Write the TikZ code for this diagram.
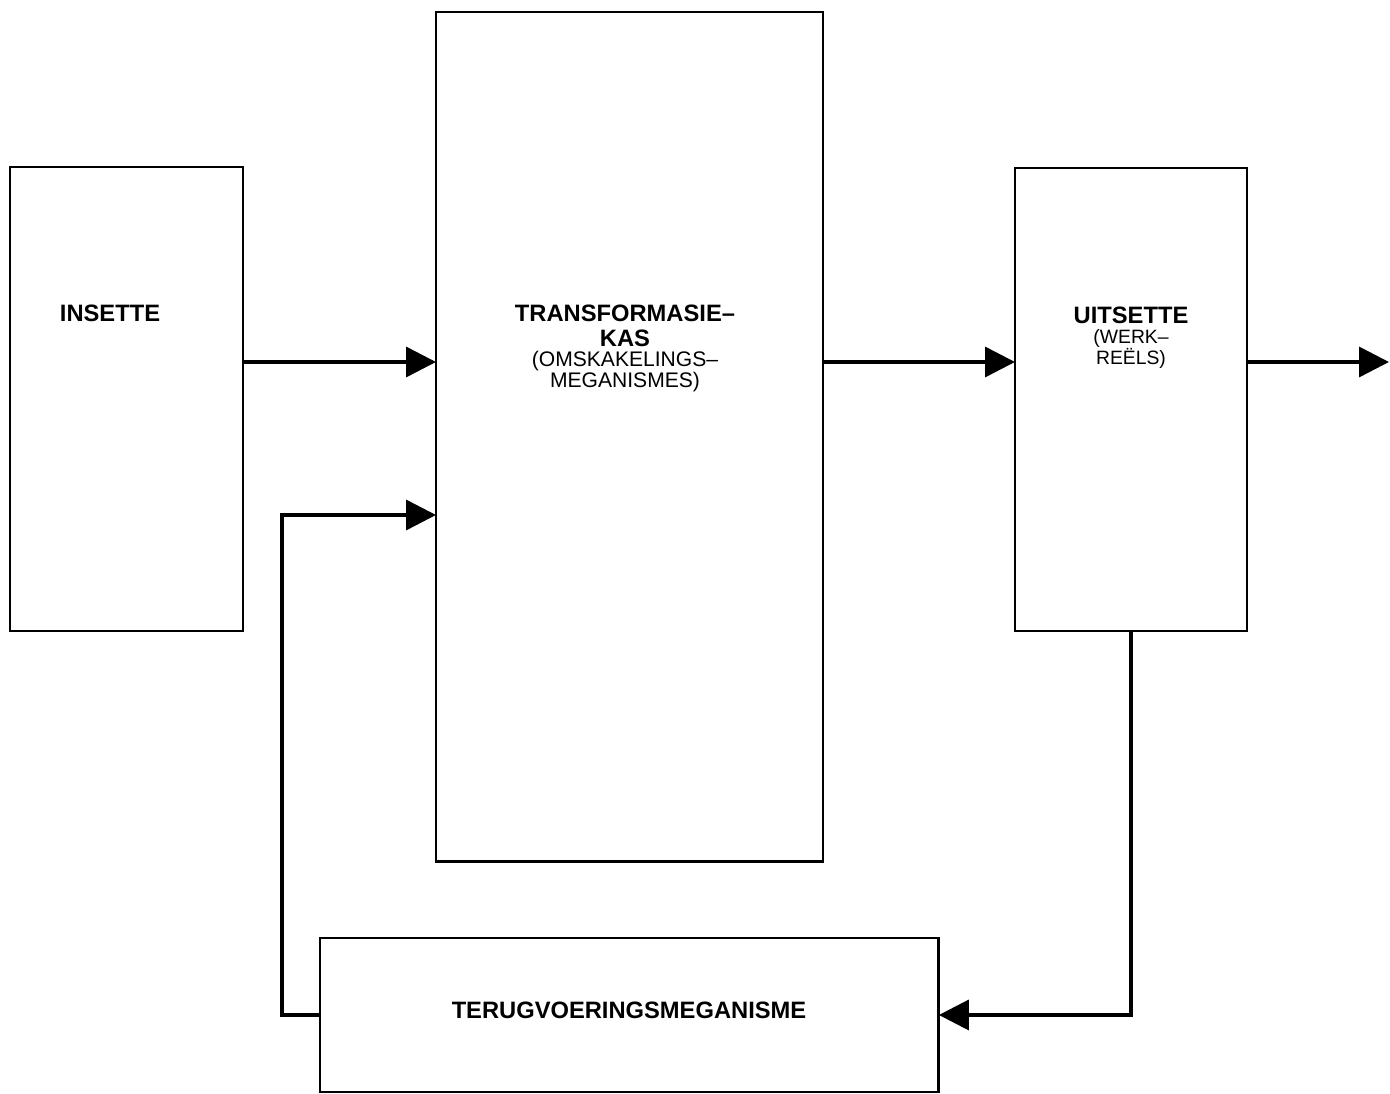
\documentclass[tikz,border=0pt]{standalone}
\usepackage{fontspec}
\setmainfont{Liberation Sans}
\usetikzlibrary{arrows.meta}
\begin{document}
\begin{tikzpicture}[x=0.02cm,y=-0.02cm,
  box/.style={draw, line width=1.6pt, inner sep=0pt, outer sep=0pt, anchor=north west},
  conn/.style={line width=2pt, -{Triangle[length=0.6cm,width=0.6cm]}},
  btxt/.style={font=\fontsize{13.5}{14.2}\selectfont\bfseries, align=center, inner sep=0pt},
  rtxt/.style={font=\fontsize{12}{12}\selectfont, align=center, inner sep=0pt}]
\useasboundingbox (0,0) rectangle (1390,1094);
% boxes
\node[box, minimum width=4.66cm, minimum height=9.28cm] (ins) at (10,167) {};
\node[box, minimum width=7.74cm, minimum height=17cm] (trans) at (436,12) {};
\node[box, minimum width=4.64cm, minimum height=9.26cm] (uit) at (1015,168) {};
\node[box, minimum width=12.38cm, minimum height=3.08cm] (terug) at (320,938) {};
% labels
\node[btxt] (insl) at (110,313) {INSETTE};
\node[btxt] (transl) at (625,325.5) {TRANSFORMASIE–\\KAS};
\node[rtxt, font=\fontsize{12}{12}\selectfont] (transs) at (625,372) {(OMSKAKELINGS–\\MEGANISMES)};
\node[btxt] (uitl) at (1131,315) {UITSETTE};
\node[rtxt, font=\fontsize{11}{11.4}\selectfont] (uits) at (1131,349) {(WERK–\\REËLS)};
\node[btxt] (terugl) at (629,1010) {TERUGVOERINGSMEGANISME};
% connectors
\coordinate (out) at (1389,362);
\coordinate (fb) at (282,515);
\draw[conn] (ins.east |- out) -- (trans.west |- out);
\draw[conn] (trans.east |- out) -- (uit.west |- out);
\draw[conn] (uit.east |- out) -- (out);
\draw[conn] (uit.south) |- (terug.east);
\draw[conn] (terug.west) -| (fb) -- (trans.west |- fb);
\end{tikzpicture}
\end{document}
